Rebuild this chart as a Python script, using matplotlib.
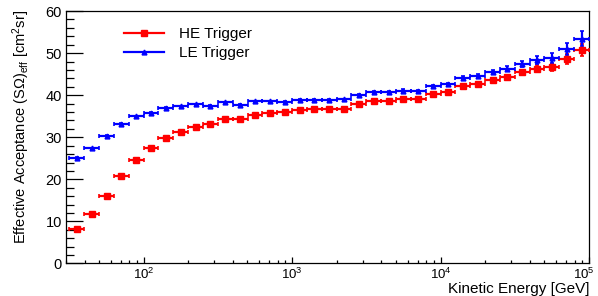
import numpy as np
import matplotlib
matplotlib.use("Agg")
import matplotlib.pyplot as plt
import matplotlib.transforms as mtransforms
from matplotlib.lines import Line2D
from matplotlib.ticker import LogLocator, MultipleLocator

plt.rcParams['font.family'] = ['Liberation Sans', 'DejaVu Sans']
plt.rcParams['mathtext.fontset'] = 'custom'
plt.rcParams['mathtext.rm'] = 'Liberation Sans'
plt.rcParams['mathtext.it'] = 'Liberation Sans:italic'

# energy bin edges [GeV], 10 bins per decade
bin_edges = [31.62, 39.81, 50.12, 63.10, 79.43,
             100, 125.9, 158.5, 199.5, 251.2, 316.2, 398.1, 501.2, 631.0, 794.3,
             1000, 1259, 1585, 1995, 2512, 3162, 3981, 5012, 6310, 7943,
             10000, 12589, 15849, 19953, 25119, 31623, 39811, 50119, 63096, 79433,
             100000]

he_acc = [8.2, 11.75, 16.1, 20.7, 24.6, 27.35, 29.9, 31.2, 32.5, 33.2,
          34.4, 34.4, 35.4, 35.8, 36.0, 36.4, 36.6, 36.6, 36.8, 37.9,
          38.5, 38.7, 39.0, 39.0, 40.2, 40.8, 42.2, 42.6, 43.5, 44.2,
          45.4, 46.3, 46.6, 48.7, 50.8]
he_err = [0.15, 0.15, 0.15, 0.15, 0.15, 0.15, 0.15, 0.15, 0.15, 0.15,
          0.15, 0.15, 0.15, 0.15, 0.2, 0.2, 0.2, 0.2, 0.2, 0.2,
          0.25, 0.25, 0.25, 0.3, 0.3, 0.3, 0.35, 0.4, 0.45, 0.6,
          0.65, 0.9, 0.9, 1.2, 1.4]

le_acc = [25.1, 27.35, 30.4, 33.2, 35.0, 35.8, 37.0, 37.35, 37.8, 37.5,
          38.3, 37.7, 38.5, 38.5, 38.4, 38.9, 38.9, 38.8, 39.0, 40.0,
          40.7, 40.8, 41.1, 41.0, 42.2, 42.7, 44.1, 44.6, 45.5, 46.3,
          47.4, 48.4, 48.8, 50.9, 53.4]
le_err = [0.15, 0.15, 0.15, 0.15, 0.15, 0.15, 0.15, 0.15, 0.15, 0.15,
          0.15, 0.15, 0.15, 0.15, 0.2, 0.2, 0.2, 0.2, 0.2, 0.2,
          0.25, 0.25, 0.25, 0.3, 0.3, 0.3, 0.35, 0.4, 0.45, 0.6,
          0.65, 1.0, 1.2, 1.4, 1.8]

edges = np.array(bin_edges)
lo, hi = edges[:-1], edges[1:]
centers = np.sqrt(lo * hi)
xerr = [centers - lo, hi - centers]

fig = plt.figure(figsize=(5.98, 2.96), dpi=100)
ax = fig.add_axes([0.1104, 0.1098, 0.8746, 0.853])

ax.errorbar(centers, he_acc, xerr=xerr, yerr=he_err, fmt='s', color='#ff0000',
            ms=4, elinewidth=1.6, capsize=1.2, capthick=1.2, zorder=3)
ax.errorbar(centers, le_acc, xerr=xerr, yerr=le_err, fmt='^', color='#0000ff',
            ms=3.5, elinewidth=1.6, capsize=1.2, capthick=1.2, zorder=3)

ax.set_xscale('log')
ax.set_xlim(30, 1e5)
ax.set_ylim(0, 60)

ax.xaxis.set_major_locator(LogLocator(base=10, numticks=10))
ax.xaxis.set_minor_locator(LogLocator(base=10, subs=np.arange(2, 10), numticks=20))
ax.yaxis.set_major_locator(MultipleLocator(10))
ax.yaxis.set_minor_locator(MultipleLocator(2))

ax.tick_params(axis='both', which='both', direction='in', top=False, right=False,
               width=0.9)
ax.tick_params(axis='y', which='major', length=12, pad=3, labelsize=10.5)
ax.tick_params(axis='y', which='minor', length=6)
ax.tick_params(axis='x', which='major', length=4.5, pad=2.5, labelsize=9.5)
ax.tick_params(axis='x', which='minor', length=2.3)
for s in ax.spines.values():
    s.set_linewidth(0.9)

ax.set_xlabel('Kinetic Energy [GeV]', fontsize=11, loc='right')
ax.xaxis.set_label_coords(1.0, -0.074)
ax.set_ylabel(r'Effective Acceptance (S$\Omega$)$_{\rm eff}$ [cm$^{2}$sr]',
              fontsize=10.5, loc='top')
ax.yaxis.set_label_coords(-0.066, 1.003)

handles = [Line2D([], [], color='#ff0000', marker='s', ms=4, lw=1.6),
           Line2D([], [], color='#0000ff', marker='^', ms=3.5, lw=1.6)]
ax.legend(handles, ['HE Trigger', 'LE Trigger'], loc='upper left',
          bbox_to_anchor=(0.085, 0.99), frameon=False, fontsize=11,
          handlelength=2.6, handletextpad=1.0, labelspacing=0.3)

# nudge the 10^5 label a little left so it stays inside the picture
fig.canvas.draw()
shift = mtransforms.ScaledTranslation(-4 / 72, 0, fig.dpi_scale_trans)
for tick in ax.xaxis.get_major_ticks():
    if tick.get_loc() >= 1e5:
        tick.label1.set_transform(tick.label1.get_transform() + shift)

fig.savefig('out.png', dpi=100)
